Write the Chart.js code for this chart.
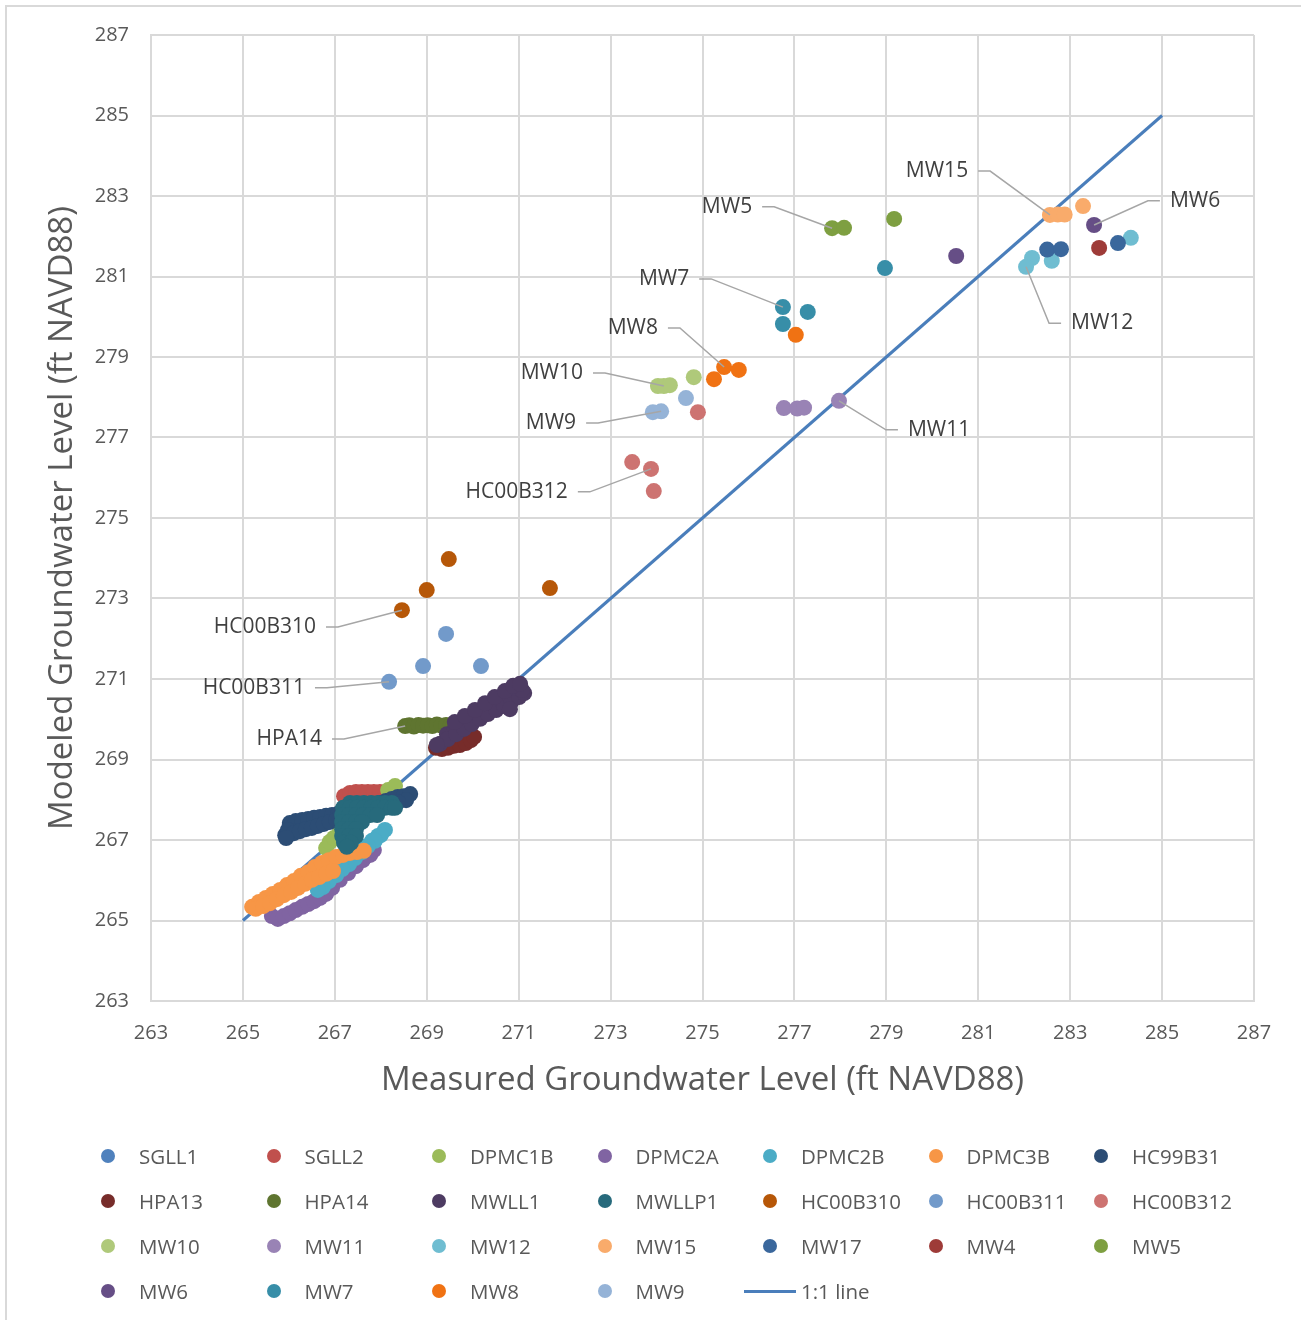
<!DOCTYPE html>
<html>
<head>
<meta charset="utf-8">
<script src="https://cdn.jsdelivr.net/npm/chart.js@4.4.1/dist/chart.umd.min.js"></script>
<style>
  html, body { margin: 0; padding: 0; background: #fff; }
  body { width: 1301px; height: 1320px; position: relative; overflow: hidden; font-family: 'Open Sans', sans-serif; }
  #frame { position: absolute; left: 5px; top: 5px; width: 1400px; height: 1400px;
           border-top: 2px solid #d9d9d9; border-left: 2px solid #d9d9d9; }
  #wrap { position: absolute; left: 0; top: 0; width: 1301px; height: 1120px; }
  #legend { position: absolute; left: 0; top: 0; width: 1301px; height: 1320px; pointer-events: none; }
  .lg-dot { position: absolute; width: 14px; height: 14px; border-radius: 50%; }
  .lg-line { position: absolute; width: 52px; height: 3px; }
  .lg-text { position: absolute; font-size: 20.5px; line-height: 24px; color: #595959; white-space: nowrap; }
</style>
</head>
<body>
<div id="frame"></div>
<div id="wrap"><canvas id="chart" width="1301" height="1120"></canvas></div>
<div id="legend"></div>
<script>
// Measured vs modeled groundwater levels (ft NAVD88), one [measured, modeled] pair per observation.
const seriesNames = ['SGLL1', 'SGLL2', 'DPMC1B', 'DPMC2A', 'DPMC2B', 'DPMC3B', 'HC99B31',
  'HPA13', 'HPA14', 'MWLL1', 'MWLLP1', 'HC00B310', 'HC00B311', 'HC00B312',
  'MW10', 'MW11', 'MW12', 'MW15', 'MW17', 'MW4', 'MW5', 'MW6', 'MW7', 'MW8', 'MW9'];

const sgll1 = [[267.44, 267.62], [267.77, 267.75], [268.09, 267.87]];
const sgll2 = [[267.20, 268.09], [267.33, 268.17], [267.46, 268.19], [267.59, 268.19],
  [267.72, 268.19], [267.85, 268.19], [267.98, 268.19], [268.11, 268.17], [268.20, 268.12]];
const dpmc1b = [[266.81, 266.80], [266.89, 266.95], [266.98, 267.05], [267.11, 267.20],
  [267.55, 267.55], [268.16, 268.24], [268.31, 268.34]];
const dpmc2a = [[265.63, 265.11], [265.76, 265.04], [265.89, 265.11], [266.02, 265.18],
  [266.15, 265.26], [266.29, 265.34], [266.42, 265.41], [266.55, 265.48], [266.68, 265.56],
  [266.81, 265.66], [266.94, 265.81], [267.11, 266.01], [267.29, 266.18], [267.46, 266.35],
  [267.61, 266.50], [267.77, 266.63], [267.85, 266.75]];
const dpmc2b = [[268.09, 267.25], [267.94, 267.10], [267.81, 266.98], [267.66, 266.83],
  [267.53, 266.68], [267.37, 266.53], [267.24, 266.40], [267.09, 266.25], [266.96, 266.11],
  [266.81, 265.96], [266.68, 265.81], [268.00, 267.12], [267.87, 266.98], [267.72, 266.85],
  [267.59, 266.70], [267.44, 266.55], [267.31, 266.40], [267.16, 266.28], [267.03, 266.13],
  [266.87, 265.98], [266.74, 265.83], [266.63, 265.76]];
const dpmc3b = [[265.20, 265.34], [265.35, 265.46], [265.50, 265.56], [265.65, 265.66],
  [265.81, 265.76], [265.96, 265.88], [266.11, 265.98], [266.26, 266.11], [266.42, 266.20],
  [266.57, 266.33], [266.72, 266.43], [266.87, 266.50], [267.03, 266.58], [267.18, 266.63],
  [267.33, 266.68], [267.48, 266.70], [267.63, 266.73],
  [265.28, 265.29], [265.44, 265.36], [265.59, 265.43], [265.74, 265.53], [265.89, 265.63],
  [266.05, 265.71], [266.20, 265.81], [266.35, 265.91], [266.50, 266.01], [266.66, 266.08],
  [266.81, 266.16], [266.96, 266.23]];
const hc99b31 = [[266.02, 267.42], [266.15, 267.47], [266.29, 267.50], [266.42, 267.52],
  [266.55, 267.55], [266.68, 267.57], [266.81, 267.60], [266.94, 267.62], [267.07, 267.65],
  [267.20, 267.67], [267.33, 267.70], [267.46, 267.75], [267.59, 267.80], [267.72, 267.84],
  [267.85, 267.87], [267.98, 267.92], [268.11, 267.97], [268.24, 268.02], [268.37, 268.07],
  [268.50, 268.09], [268.64, 268.14], [268.55, 267.99], [268.37, 267.94], [268.20, 267.89],
  [265.92, 267.12], [265.98, 267.25], [266.11, 267.17], [266.24, 267.22], [266.37, 267.27],
  [266.50, 267.30], [266.63, 267.35], [266.76, 267.40], [266.89, 267.45], [267.03, 267.50],
  [267.16, 267.52], [265.94, 267.05]];
const hpa13 = [[269.20, 269.29], [269.33, 269.26], [269.46, 269.29], [269.59, 269.34],
  [269.72, 269.36], [269.85, 269.41], [269.96, 269.48], [270.03, 269.56]];
const hpa14 = [[268.53, 269.83], [268.62, 269.85], [268.72, 269.82], [268.82, 269.86],
  [268.92, 269.84], [269.02, 269.85], [269.12, 269.83], [269.22, 269.87], [269.32, 269.84],
  [269.42, 269.86], [269.52, 269.85], [269.62, 269.88], [269.72, 269.90]];
const mwll1 = [[269.44, 269.63], [269.61, 269.76], [269.79, 269.88], [269.96, 270.01],
  [270.14, 270.13], [270.31, 270.25], [270.48, 270.38], [270.66, 270.50], [270.83, 270.63],
  [271.01, 270.75], [269.29, 269.39], [269.46, 269.51], [269.64, 269.63], [269.81, 269.76],
  [269.98, 269.88], [270.16, 270.01], [270.33, 270.13], [270.51, 270.23], [270.68, 270.33],
  [270.85, 270.45], [271.01, 270.55], [271.12, 270.65], [270.81, 270.25], [270.92, 270.78],
  [271.07, 270.73], [269.22, 269.36], [269.61, 269.93], [269.83, 270.08], [270.05, 270.23],
  [270.27, 270.40], [270.48, 270.55], [270.70, 270.70], [270.88, 270.83], [271.03, 270.88]];
const mwllp1 = [[267.33, 267.92], [267.48, 267.92], [267.63, 267.92],
  [267.79, 267.92], [267.94, 267.92], [268.09, 267.92], [268.24, 267.92],
  [267.18, 267.80], [267.33, 267.80], [267.48, 267.80], [267.63, 267.80], [267.79, 267.80],
  [267.94, 267.80], [268.09, 267.80], [268.24, 267.80], [268.31, 267.80],
  [267.16, 267.62], [267.31, 267.62], [267.46, 267.62], [267.61, 267.62], [267.77, 267.62],
  [267.92, 267.62], [267.16, 267.45], [267.31, 267.45], [267.46, 267.45], [267.59, 267.45],
  [267.16, 267.27], [267.31, 267.27], [267.46, 267.27], [267.16, 267.10], [267.31, 267.10],
  [267.46, 267.10], [267.20, 266.93], [267.35, 266.93], [267.26, 266.83]];
const hc00b310 = [[268.46, 272.71], [269.00, 273.21], [269.48, 273.98], [271.68, 273.26]];
const hc00b311 = [[268.18, 270.93], [268.92, 271.32], [269.42, 272.12], [270.18, 271.32]];
const hc00b312 = [[273.47, 276.39], [273.88, 276.22], [273.94, 275.67], [274.90, 277.63]];
const mw10 = [[274.03, 278.28], [274.16, 278.28], [274.29, 278.30], [274.81, 278.50]];
const mw11 = [[276.77, 277.73], [277.06, 277.72], [277.21, 277.74], [277.97, 277.91]];
const mw12 = [[284.32, 281.96], [282.60, 281.39], [282.17, 281.46], [282.04, 281.24]];
const mw15 = [[282.56, 282.53], [282.73, 282.54], [282.88, 282.54], [283.28, 282.75]];
const mw17 = [[282.50, 281.67], [282.80, 281.68], [284.04, 281.83]];
const mw4 = [[283.63, 281.71]];
const mw5 = [[277.82, 282.20], [278.08, 282.21], [279.17, 282.43]];
const mw6 = [[280.52, 281.51], [283.52, 282.28]];
const mw7 = [[276.75, 280.24], [276.75, 279.82], [277.29, 280.12], [278.97, 281.21]];
const mw8 = [[275.25, 278.45], [275.47, 278.75], [275.79, 278.68], [277.03, 279.55]];
const mw9 = [[273.92, 277.63], [274.10, 277.65], [274.64, 277.98]];

const seriesValues = [sgll1, sgll2, dpmc1b, dpmc2a, dpmc2b, dpmc3b, hc99b31, hpa13, hpa14,
  mwll1, mwllp1, hc00b310, hc00b311, hc00b312, mw10, mw11, mw12, mw15, mw17, mw4, mw5,
  mw6, mw7, mw8, mw9];

// 1:1 reference line end points
const oneToOne = [[265, 265], [285, 285]];

// Axis ticks
const tickValues = [263, 265, 267, 269, 271, 273, 275, 277, 279, 281, 283, 285, 287];

const seriesColors = ['#4F81BD', '#C0504D', '#9BBB59', '#8064A2', '#4BACC6', '#F79646', '#2C4D75',
  '#772C2A', '#5F7530', '#4D3B62', '#276A7C', '#B65708', '#729ACA', '#CD7371',
  '#AFC97A', '#9983B5', '#6FBDD1', '#F9AB6B', '#3A679C', '#9E3B38', '#7E9F41', '#664E86',
  '#378EA8', '#F07213', '#95B3D7'];
const lineColor = '#4A7EBB';

// Labelled wells: label anchor [measured, modeled], side of the target the text sits on
const callouts = [
  { series: 'MW15', point: 0, at: [280.78, 283.62], side: 'left' },
  { series: 'MW6', point: 1, at: [285.17, 282.88], side: 'right' },
  { series: 'MW5', point: 0, at: [276.08, 282.73], side: 'left' },
  { series: 'MW7', point: 0, at: [274.71, 280.94], side: 'left' },
  { series: 'MW8', point: 1, at: [274.03, 279.72], side: 'left' },
  { series: 'MW10', point: 1, at: [272.40, 278.60], side: 'left' },
  { series: 'MW9', point: 1, at: [272.25, 277.36], side: 'left' },
  { series: 'HC00B312', point: 1, at: [272.07, 275.65], side: 'left' },
  { series: 'MW11', point: 3, at: [279.47, 277.19], side: 'right' },
  { series: 'MW12', point: 3, at: [283.02, 279.84], side: 'right' },
  { series: 'HC00B310', point: 0, at: [266.59, 272.29], side: 'left' },
  { series: 'HC00B311', point: 0, at: [266.35, 270.78], side: 'left' },
  { series: 'HPA14', point: 0, at: [266.72, 269.51], side: 'left' }
];

const FONT = "'Open Sans', sans-serif";
const toXY = arr => arr.map(([x, y]) => ({ x, y }));

const datasets = seriesNames.map((name, i) => ({
  type: 'scatter',
  label: name,
  data: toXY(seriesValues[i]),
  backgroundColor: seriesColors[i],
  borderColor: seriesColors[i],
  borderWidth: 0,
  pointRadius: 8,
  pointHoverRadius: 8,
  order: 100 - i   // later series paint over earlier ones
}));
datasets.push({
  type: 'line',
  label: '1:1 line',
  data: toXY(oneToOne),
  borderColor: lineColor,
  backgroundColor: lineColor,
  borderWidth: 3,
  pointRadius: 0,
  fill: false,
  order: 200
});

const calloutPlugin = {
  id: 'callouts',
  afterDatasetsDraw(chart) {
    const { ctx, scales: { x, y } } = chart;
    ctx.save();
    ctx.font = '21px ' + FONT;
    ctx.textBaseline = 'middle';
    ctx.strokeStyle = '#a6a6a6';
    ctx.lineWidth = 1.5;
    callouts.forEach(c => {
      const ds = chart.data.datasets[seriesNames.indexOf(c.series)];
      const p = ds.data[c.point];
      const px = x.getPixelForValue(p.x), py = y.getPixelForValue(p.y);
      const tx = x.getPixelForValue(c.at[0]), ty = y.getPixelForValue(c.at[1]);
      const s = c.side === 'left' ? 1 : -1;
      const x0 = tx + s * 10, x1 = tx + s * 22;
      ctx.beginPath();
      ctx.moveTo(x0, ty);
      ctx.lineTo(x1, ty);
      ctx.lineTo(px, py);
      ctx.stroke();
      ctx.fillStyle = '#404040';
      ctx.textAlign = c.side === 'left' ? 'right' : 'left';
      ctx.fillText(c.series, tx, ty);
    });
    ctx.restore();
  }
};

const axisCommon = {
  type: 'linear',
  min: 263,
  max: 287,
  afterBuildTicks: scale => { scale.ticks = tickValues.map(v => ({ value: v })); },
  grid: { color: '#d9d9d9', lineWidth: 2, drawTicks: false },
  border: { color: '#d9d9d9', width: 2 },
};

const chart = new Chart(document.getElementById('chart'), {
  type: 'scatter',
  data: { datasets },
  plugins: [calloutPlugin],
  options: {
    responsive: false,
    animation: false,
    events: [],
    layout: { padding: { left: 0, top: 35, right: 47, bottom: 0 } },
    plugins: { legend: { display: false }, tooltip: { enabled: false } },
    scales: {
      x: Object.assign({}, axisCommon, {
        position: 'bottom',
        ticks: { color: '#595959', font: { family: FONT, size: 20 }, padding: 20, maxRotation: 0 },
        title: { display: true, text: 'Measured Groundwater Level (ft NAVD88)', color: '#595959',
          font: { family: FONT, size: 33 }, padding: { top: 0, bottom: 20 } },
        afterFit: s => { s.height = 119; }
      }),
      y: Object.assign({}, axisCommon, {
        position: 'left',
        ticks: { color: '#595959', font: { family: FONT, size: 20 }, padding: 22 },
        title: { display: true, text: 'Modeled Groundwater Level (ft NAVD88)', color: '#595959',
          font: { family: FONT, size: 33 }, padding: { top: 43, bottom: 0 } },
        afterFit: s => { s.width = 151; }
      })
    }
  }
});

// Legend: seven columns, filled row by row in series order
(function buildLegend() {
  const box = document.getElementById('legend');
  chart.data.datasets.forEach((ds, i) => {
    const col = i % 7, row = Math.floor(i / 7);
    const cx = 108 + col * 165.5, cy = 1156 + row * 45;
    const mark = document.createElement('div');
    if (ds.type === 'line') {
      mark.className = 'lg-line';
      mark.style.left = (cx - 26) + 'px';
      mark.style.top = (cy - 1.5) + 'px';
      mark.style.background = ds.borderColor;
    } else {
      mark.className = 'lg-dot';
      mark.style.left = (cx - 7) + 'px';
      mark.style.top = (cy - 7) + 'px';
      mark.style.background = ds.backgroundColor;
    }
    box.appendChild(mark);
    const t = document.createElement('div');
    t.className = 'lg-text';
    t.textContent = ds.label;
    t.style.left = (cx + 31) + 'px';
    t.style.top = (cy - 12) + 'px';
    box.appendChild(t);
  });
})();
</script>
</body>
</html>
